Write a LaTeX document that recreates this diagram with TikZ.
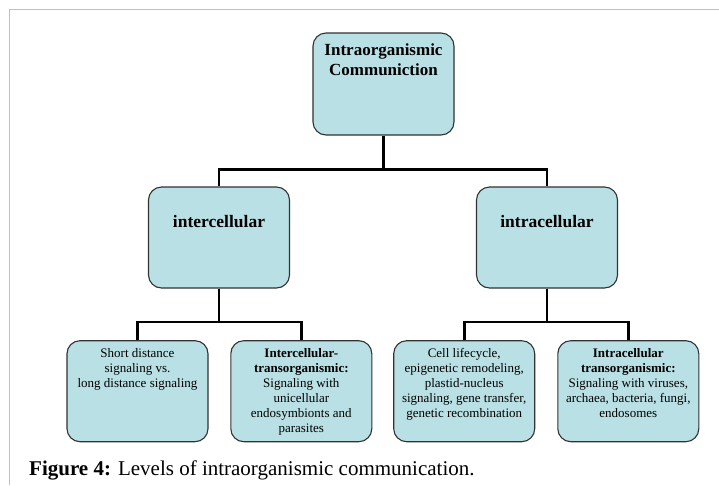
\documentclass[tikz,border=0pt]{standalone}
\usepackage{fontspec}
\setmainfont{Liberation Serif}
\definecolor{boxfill}{RGB}{185,224,228}
\definecolor{framegray}{RGB}{192,192,192}
\definecolor{boxline}{RGB}{50,50,50}
\newcommand{\boxtext}[3]{\parbox[c][101pt][t]{141pt}{\centering #2\vspace*{#1}\strut #3}}
\begin{document}
\begin{tikzpicture}[x=1pt,y=-1pt,
  box/.style={draw=boxline, line width=1.1pt, fill=boxfill, rounded corners=13pt,
    inner sep=0pt, minimum width=141pt, minimum height=101pt},
  conn/.style={draw=black, line width=2.8pt}]
\useasboundingbox (0,0) rectangle (719,485);
\fill[white] (0,0) rectangle (719,485);
\draw[framegray, line width=1.6pt] (9.5,485) -- (9.5,9.5) -- (719,9.5);

\node[box, minimum height=102pt] (top) at (383.5,84)
  {\boxtext{8.35pt}{\fontsize{17}{19.5}\selectfont\bfseries}{Intraorganismic\\Communiction}};
\node[box] (inter) at (219,237.5)
  {\boxtext{26.5pt}{\fontsize{17.5}{20}\selectfont\bfseries}{intercellular}};
\node[box] (intra) at (547,237.5)
  {\boxtext{26.5pt}{\fontsize{17.5}{20}\selectfont\bfseries}{intracellular}};

\node[box] (b1) at (137.5,391.2)
  {\boxtext{6.3pt}{\fontsize{13}{15}\selectfont}{Short distance\\signaling vs.\\long distance signaling}};
\node[box] (b2) at (301.3,391.2)
  {\boxtext{6.3pt}{\fontsize{13}{15}\selectfont}{\textbf{Intercellular-}\\\textbf{transorganismic:}\\Signaling with\\unicellular\\endosymbionts and\\parasites}};
\node[box] (b3) at (464.2,391.2)
  {\boxtext{6.3pt}{\fontsize{13}{15}\selectfont}{Cell lifecycle,\\epigenetic remodeling,\\plastid-nucleus\\signaling, gene transfer,\\genetic recombination}};
\node[box] (b4) at (628.3,391.2)
  {\boxtext{6.3pt}{\fontsize{13}{15}\selectfont}{\textbf{Intracellular}\\\textbf{transorganismic:}\\Signaling with viruses,\\archaea, bacteria, fungi,\\endosomes}};

\coordinate (j1) at (383.5,169.5);
\coordinate (j2) at (219,322);
\coordinate (j3) at (547,322);

\draw[conn] (top.south) -- (j1);
\draw[conn] (inter.north) |- (j1) -| (intra.north);
\draw[conn] (inter.south) -- (j2);
\draw[conn] (b1.north) |- (j2) -| (b2.north);
\draw[conn] (intra.south) -- (j3);
\draw[conn] (b3.north) |- (j3) -| (b4.north);

\node[anchor=base west, inner sep=0pt] (cap) at (29,475)
  {\fontsize{21}{24}\selectfont\textbf{Figure 4:} Levels of intraorganismic communication.};
\end{tikzpicture}
\end{document}
